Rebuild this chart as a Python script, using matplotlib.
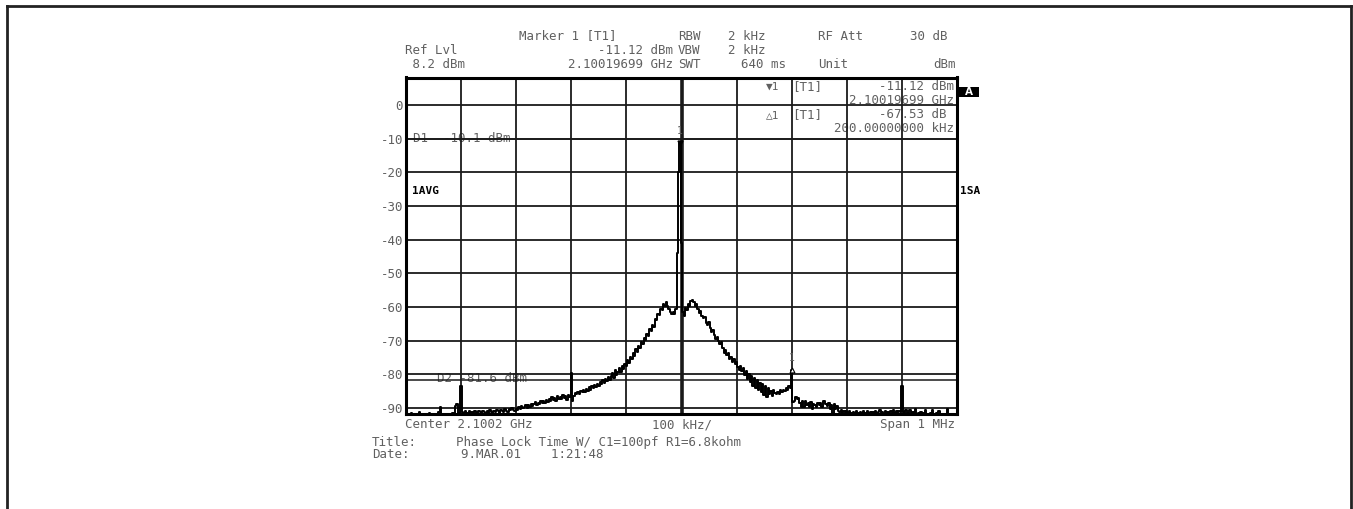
import numpy as np
import matplotlib.pyplot as plt
from matplotlib.lines import Line2D
from matplotlib.patches import Rectangle
from matplotlib.transforms import Affine2D

# Spectrum analyzer screen: phase lock time test, 1 MHz span around 2.1002 GHz

ref_level = 8.2
db_per_div = 10
span_khz = 1000
grid_levels = [0, -10, -20, -30, -40, -50, -60, -70, -80, -90]
grid_offsets = [-400, -300, -200, -100, 0, 100, 200, 300, 400]
d1_level = -10.1
d2_level = -81.6
marker1 = (-2.5, -11.12)
delta1 = (200.0, -78.65)

# trace level (dBm), 2.5 kHz per point from -500 kHz to +500 kHz
level_dbm = [
    -92, -92, -92, -92, -91.6, -92, -92, -92, -92, -92, -91.2, -92, -92, -92, -92, -92, -92, -91.5, -92, -92,
    -92, -92, -92, -92, -91.2, -89.8, -92, -92, -92, -92, -92, -92, -92, -92, -91.5, -92, -89.5, -88.8, -92, -91.5,
    -83.5, -91.2, -91.5, -90.8, -91.4, -91.6, -91.0, -91.5, -91.2, -91.6, -90.9, -91.4, -91.6, -91.0, -91.3, -91.6, -90.8, -91.2, -91.5, -91.0,
    -91.4, -90.6, -91.2, -91.5, -90.8, -91.3, -90.5, -91.0, -91.4, -90.6, -90.9, -91.3, -90.4, -90.8, -91.1, -90.3, -90.7, -89.9, -90.5, -90.9,
    -90.2, -90.6, -89.7, -90.3, -89.5, -90.1, -89.8, -89.2, -89.9, -89.0, -89.6, -88.7, -89.4, -88.9, -88.3, -89.1, -88.5, -88.9, -88.0, -88.6,
    -87.8, -88.5, -87.5, -88.2, -87.2, -87.9, -86.8, -87.6, -87.0, -87.8, -86.5, -87.3, -86.6, -87.4, -86.2, -87.0, -86.4, -87.5, -86.2, -86.8,
    -79.7, -87.8, -86.5, -85.6, -86.0, -85.2, -85.8, -84.9, -85.4, -84.6, -85.3, -84.4, -84.9, -83.9, -84.6, -83.6, -84.2, -83.2, -83.9, -82.8,
    -83.5, -82.4, -83.0, -81.8, -82.6, -81.3, -82.0, -80.8, -81.6, -80.4, -79.5, -81.2, -78.6, -80.3, -79.2, -78.0, -79.4, -77.6, -78.4, -76.8,
    -77.5, -75.8, -76.6, -74.9, -75.6, -73.8, -74.5, -72.6, -73.4, -71.5, -72.2, -70.4, -71.0, -69.2, -69.8, -68.0, -68.5, -66.6, -67.2, -65.3,
    -65.8, -63.6, -64.0, -62.2, -62.4, -60.6, -60.8, -59.2, -59.6, -58.4, -59.8, -60.6, -61.4, -62.2, -61.6, -62.0, -60.5, -44.0, -20.0, -11.12,
    -41.0, -61.5, -62.8, -60.2, -60.8, -59.0, -59.6, -58.2, -57.8, -58.6, -59.8, -59.2, -60.6, -61.8, -61.2, -62.6, -63.4, -63.0, -64.8, -65.4,
    -64.6, -66.2, -67.4, -66.8, -68.2, -69.6, -68.8, -70.2, -71.0, -70.4, -72.2, -73.6, -72.8, -74.2, -73.6, -75.4, -74.8, -76.2, -75.4, -77.0,
    -76.4, -77.8, -78.6, -77.4, -79.0, -78.2, -80.2, -79.0, -81.4, -79.8, -82.2, -80.4, -83.6, -81.2, -84.0, -81.8, -84.8, -82.6, -85.4, -83.0,
    -86.2, -83.4, -86.6, -84.0, -85.8, -85.0, -86.4, -84.8, -85.6, -86.0, -85.2, -85.8, -84.8, -85.4, -84.6, -85.0, -84.2, -84.6, -83.4, -84.0,
    -78.65, -88.2, -87.8, -86.8, -87.4, -87.0, -88.4, -89.6, -87.8, -89.8, -88.0, -89.2, -88.4, -89.6, -88.2, -90.2, -88.8, -89.0, -89.8, -88.6,
    -89.2, -88.4, -89.6, -88.0, -87.8, -88.8, -89.4, -88.6, -90.4, -89.0, -91.8, -88.8, -90.2, -89.4, -90.8, -91.2, -90.6, -91.4, -90.8, -91.6,
    -91.0, -91.6, -90.8, -91.4, -91.7, -91.2, -91.6, -91.0, -91.5, -91.8, -91.3, -91.6, -91.0, -91.6, -91.4, -90.9, -91.6, -91.3, -91.7, -91.1,
    -91.5, -91.0, -91.6, -91.2, -90.6, -91.5, -91.3, -91.7, -90.8, -91.4, -91.2, -91.6, -90.9, -91.5, -90.7, -91.4, -91.0, -91.6, -90.8, -91.3,
    -83.6, -91.2, -91.6, -90.6, -91.5, -91.8, -90.5, -91.6, -91.3, -91.8, -90.4, -91.7, -91.5, -91.8, -91.2, -91.8, -91.6, -90.6, -91.8, -91.7,
    -91.8, -91.4, -90.5, -91.8, -91.8, -91.6, -91.8, -90.8, -91.8, -91.8, -91.8, -91.8, -91.8, -90.4, -91.8, -91.8, -91.8, -91.8, -91.8, -91.8, -91.8,
]
offset_khz = np.linspace(-span_khz / 2, span_khz / 2, len(level_dbm))

W, H = 1353, 509
MONO = ['DejaVu Sans Mono', 'DejaVu Sans']
GRAY = '#606060'

fig = plt.figure(figsize=(W / 100, H / 100), dpi=100)
px = Affine2D().scale(1 / W, -1 / H).translate(0, 1) + fig.transFigure

left, right, top, bottom = 406, 957, 77.5, 414
ax = fig.add_axes([left / W, 1 - bottom / H, (right - left) / W, (bottom - top) / H])
ax.set_xlim(-span_khz / 2, span_khz / 2)
ax.set_ylim(ref_level - 10 * db_per_div, ref_level)

for s in ax.spines.values():
    s.set_linewidth(2.2)
ax.set_xticks([])
ax.set_yticks(grid_levels)
ax.set_yticklabels([str(v) for v in grid_levels], family=MONO, fontsize=9, color=GRAY)
ax.tick_params(axis='y', length=0, pad=2)

for lv in grid_levels:
    ax.axhline(lv, color='#1a1a1a', lw=1.3, zorder=2)
for off in grid_offsets:
    ax.axvline(off, color='#1a1a1a', lw=2.6 if off == 0 else 1.3, zorder=2)

# display lines
ax.axhline(d1_level, color='#1a1a1a', lw=1.1, zorder=2)
ax.axhline(d2_level, color='#1a1a1a', lw=1.1, zorder=2)

ax.plot(offset_khz, level_dbm, color='black', lw=1.4, drawstyle='steps-mid',
        zorder=3, clip_on=True)

# markers
ax.plot(*marker1, marker='v', ms=3.5, color='black', zorder=4)
ax.annotate('1', marker1, xytext=(0, 6), textcoords='offset points', ha='center',
            family=MONO, fontsize=7, color=GRAY)
ax.plot(*delta1, marker='^', ms=3.5, mfc='white', mec='black', mew=0.8, zorder=4)
ax.annotate('1', delta1, xytext=(0, 6), textcoords='offset points', ha='center',
            family=MONO, fontsize=7, color=GRAY)


def put(x, y, s, ha='left', on_ax=False, **kw):
    opts = dict(transform=px, ha=ha, va='center', family=MONO, fontsize=9, color=GRAY)
    opts.update(kw)
    if on_ax:
        ax.text(x, y, s, zorder=1, clip_on=False, **opts)
    else:
        fig.text(x, y, s, **opts)


# header
put(519, 36, 'Marker 1 [T1]')
put(678, 36, 'RBW')
put(765, 36, '2 kHz', ha='right')
put(818, 36, 'RF Att')
put(948, 36, '30 dB', ha='right')
put(405, 50, 'Ref Lvl')
put(673, 50, '-11.12 dBm', ha='right')
put(678, 50, 'VBW')
put(765, 50, '2 kHz', ha='right')
put(405, 64, ' 8.2 dBm')
put(673, 64, '2.10019699 GHz', ha='right')
put(678, 64, 'SWT')
put(741, 64, '640 ms')
put(818, 64, 'Unit')
put(956, 64, 'dBm', ha='right')

# marker readout inside the grid
put(766, 87, '\u25bc1', on_ax=True, fontsize=8)
put(792, 87, '[T1]', on_ax=True)
put(954, 87, '-11.12 dBm', ha='right', on_ax=True)
put(954, 101, '2.10019699 GHz', ha='right', on_ax=True)
put(766, 115, '\u25b31', on_ax=True, fontsize=8)
put(792, 115, '[T1]', on_ax=True)
put(954, 115, '-67.53 dB ', ha='right', on_ax=True)
put(954, 128, '200.00000000 kHz', ha='right', on_ax=True)

put(413, 138, 'D1  -10.1 dBm', on_ax=True,
    bbox=dict(facecolor='white', edgecolor='none', pad=0.5))
put(437, 379, 'D2 -81.6 dBm', on_ax=True,
    bbox=dict(facecolor='white', edgecolor='none', pad=0.5))

put(412, 191, '1AVG', on_ax=True, fontsize=8, weight='bold', color='black')
put(960, 191, '1SA', fontsize=8, weight='bold', color='black')
fig.add_artist(Rectangle((959 / W, 1 - 97 / H), 20 / W, 10 / H, transform=fig.transFigure,
                         facecolor='black', edgecolor='none'))
put(969, 92, 'A', ha='center', fontsize=7.5, weight='bold', color='white',
    family='DejaVu Sans')

# footer
put(405, 425, 'Center 2.1002 GHz')
put(682, 425, '100 kHz/', ha='center')
put(955, 425, 'Span 1 MHz', ha='right')
put(372, 443, 'Title:')
put(456, 443, 'Phase Lock Time W/ C1=100pf R1=6.8kohm')
put(372, 455, 'Date:')
put(461, 455, '9.MAR.01    1:21:48')

# outer frame
frame = dict(transform=fig.transFigure, color='#222222', lw=2)
fig.add_artist(Line2D([7 / W, 7 / W], [0, 1 - 6 / H], **frame))
fig.add_artist(Line2D([7 / W, 1351 / W], [1 - 6 / H, 1 - 6 / H], **frame))
fig.add_artist(Line2D([1351 / W, 1351 / W], [0, 1 - 6 / H], **frame))

fig.savefig('out.png', dpi=100)
